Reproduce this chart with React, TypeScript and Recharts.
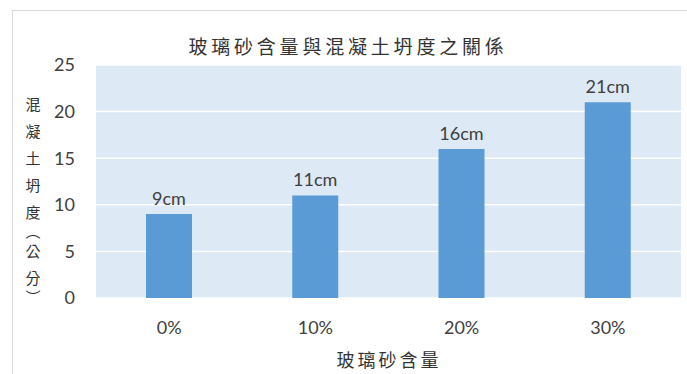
import { BarChart, Bar, XAxis, YAxis, CartesianGrid, LabelList } from "recharts";

// glass sand content vs. concrete slump
const contents = ["0%", "10%", "20%", "30%"];
const slump = [9, 11, 16, 21];
const yTicks = [0, 5, 10, 15, 20, 25];

const data = contents.map((c, i) => ({ content: c, slump: slump[i] }));

const W = 687;
const H = 374;
const NUM_FONT = "Lato, 'Open Sans', sans-serif";
const CJK_FONT = "'Noto Sans CJK TC', 'Noto Sans CJK SC', sans-serif";
const TEXT = "#404040";

// vertical y-axis title, stacked one glyph per row; the brackets use
// the vertical presentation forms and take about half a row
const yTitle = ["混", "凝", "土", "坍", "度", "︵", "公", "分", "︶"];
const isBracket = (ch: string) => ch === "︵" || ch === "︶";
const yTitleRows = (() => {
  const out: { ch: string; y: number }[] = [];
  let y = 103;
  yTitle.forEach((ch, i) => {
    const h = isBracket(ch) ? 12 : 27;
    if (i > 0) {
      const ph = isBracket(yTitle[i - 1]) ? 12 : 27;
      y += (ph + h) / 2;
    }
    out.push({ ch, y });
  });
  return out;
})();

export default function App() {
  return (
    <div style={{ position: "relative", width: W, height: H, overflow: "hidden", background: "#fff" }}>
      <style>{"body{margin:0}"}</style>
      <div
        style={{
          position: "absolute",
          left: 12,
          top: 10,
          width: 720,
          height: 420,
          border: "1px solid #D9D9D9",
          boxSizing: "border-box",
        }}
      />
      <div style={{ position: "absolute", left: 0, top: 0 }}>
        <BarChart width={W} height={H} data={data} margin={{ top: 65, right: 6, bottom: 46, left: 0 }}>
          <CartesianGrid vertical={false} fill="#DDE9F5" stroke="#FFFFFF" strokeWidth={1.5} />
          <XAxis
            dataKey="content"
            height={30}
            axisLine={false}
            tickLine={false}
            tickSize={0}
            tickMargin={23}
            tick={{ fontSize: 18, fill: TEXT, fontFamily: NUM_FONT }}
          />
          <YAxis
            width={96}
            domain={[0, 25]}
            ticks={yTicks}
            axisLine={false}
            tickLine={false}
            tickSize={0}
            tickMargin={21}
            tick={{ fontSize: 18, fill: TEXT, fontFamily: NUM_FONT }}
          />
          <Bar dataKey="slump" fill="#5B9BD5" barSize={46} isAnimationActive={false}>
            <LabelList
              dataKey="slump"
              position="top"
              offset={9}
              formatter={(v: any) => `${v}cm`}
              fill={TEXT}
              fontSize={18}
              fontFamily={NUM_FONT}
            />
          </Bar>
        </BarChart>
      </div>
      <svg
        width={W}
        height={H}
        style={{ position: "absolute", left: 0, top: 0, pointerEvents: "none" }}
      >
        <text
          x={348}
          y={45}
          textAnchor="middle"
          dominantBaseline="central"
          fontSize={19}
          letterSpacing={3.8}
          fill="#333333"
          fontFamily={CJK_FONT}
        >
          玻璃砂含量與混凝土坍度之關係
        </text>
        <text
          x={389}
          y={359}
          textAnchor="middle"
          dominantBaseline="central"
          fontSize={18}
          letterSpacing={3}
          fill="#333333"
          fontFamily={CJK_FONT}
        >
          玻璃砂含量
        </text>
        {yTitleRows.map((r) => (
          <text
            key={r.ch}
            x={33}
            y={r.y}
            textAnchor="middle"
            dominantBaseline="central"
            fontSize={15}
            fill="#333333"
            fontFamily={CJK_FONT}
          >
            {r.ch}
          </text>
        ))}
      </svg>
    </div>
  );
}
